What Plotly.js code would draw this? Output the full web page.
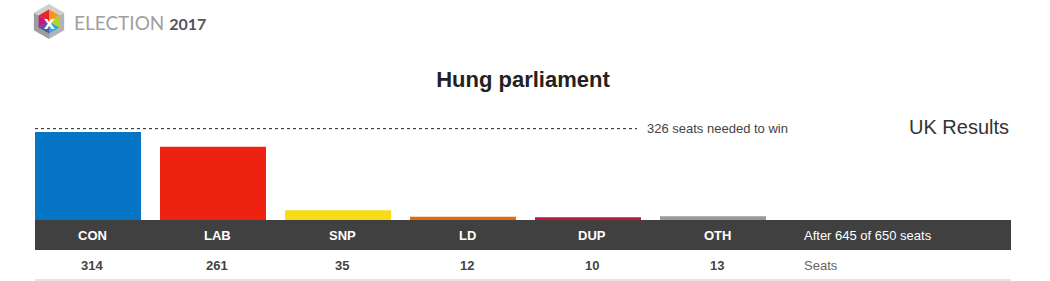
<!DOCTYPE html>
<html>
<head>
<meta charset="utf-8">
<script src="https://cdn.plot.ly/plotly-3.0.1.min.js"></script>
<style>
html,body{margin:0;padding:0;background:#fff;}
#chart{width:1050px;height:281px;}
</style>
</head>
<body>
<div id="chart"></div>
<script>
// ---- data ----
const parties = ['CON', 'LAB', 'SNP', 'LD', 'DUP', 'OTH'];
const seats = [314, 261, 35, 12, 10, 13];
const partyColors = ['#0775C5', '#EE2211', '#F8DC17', '#E56B05', '#C0143C', '#999999'];
const majority = 326;
const declared = 645;
const totalSeats = 650;
const titleText = 'Hung parliament';
const subtitleText = 'UK Results';
const majorityText = majority + ' seats needed to win';
const progressText = 'After ' + declared + ' of ' + totalSeats + ' seats';
const rowLabel = 'Seats';
const logoWord = 'ELECTION';
const logoYear = '2017';

// ---- layout geometry (pixels) ----
const W = 1050, H = 281;
const plotL = 35, plotR = 1011, plotT = 120, plotB = 220;
const plotW = plotR - plotL, plotH = plotB - plotT;
const px = x => (x - plotL) / plotW;          // pixel x -> paper
const py = y => (plotB - y) / plotH;          // pixel y -> paper
const FONT = 'Arial, "Liberation Sans", Helvetica, sans-serif';

const trace = {
  type: 'bar',
  x: parties,
  y: seats,
  width: 0.848,
  marker: {color: partyColors, line: {width: 0}},
  hoverinfo: 'skip',
  cliponaxis: false
};

const shapes = [];
const annotations = [];

// dark band under bars
shapes.push({type: 'rect', xref: 'paper', yref: 'paper', x0: 0, x1: 1, y0: py(250), y1: py(220),
  fillcolor: '#404040', line: {width: 0}, layer: 'below'});
// bottom rule
shapes.push({type: 'line', xref: 'paper', yref: 'paper', x0: 0, x1: 1, y0: py(280), y1: py(280),
  line: {color: '#dddddd', width: 1.5}});
// majority dashed line
shapes.push({type: 'line', xref: 'paper', yref: 'y', x0: 0, x1: px(637), y0: majority, y1: majority,
  line: {color: '#222222', width: 1, dash: '3px,3px'}});

annotations.push({xref: 'paper', yref: 'y', x: px(645), y: majority, xanchor: 'left', yanchor: 'middle',
  text: majorityText, showarrow: false, font: {family: FONT, size: 13, color: '#444'}});
annotations.push({xref: 'paper', yref: 'paper', x: 1, y: py(127), xanchor: 'right', yanchor: 'middle',
  text: subtitleText, showarrow: false, font: {family: FONT, size: 20, color: '#333'}});

parties.forEach((p, i) => {
  annotations.push({xref: 'x', yref: 'paper', x: p, y: py(235), xshift: 4, xanchor: 'center', yanchor: 'middle',
    text: '<b>' + p + '</b>', showarrow: false, font: {family: FONT, size: 13, color: '#ffffff'}});
  annotations.push({xref: 'x', yref: 'paper', x: p, y: py(265), xshift: 4, xanchor: 'center', yanchor: 'middle',
    text: '<b>' + seats[i] + '</b>', showarrow: false, font: {family: FONT, size: 13, color: '#444'}});
});
annotations.push({xref: 'paper', yref: 'paper', x: px(802), y: py(235), xanchor: 'left', yanchor: 'middle',
  text: progressText, showarrow: false, font: {family: FONT, size: 13, color: '#ffffff'}});
annotations.push({xref: 'paper', yref: 'paper', x: px(802), y: py(265), xanchor: 'left', yanchor: 'middle',
  text: rowLabel, showarrow: false, font: {family: FONT, size: 13, color: '#666'}});

// ---- logo ----
const cx = 49, cy = 21.5, R = 17.5, r = 12;
function hexPt(rad, k) { // k=0 top, clockwise
  const a = (-90 + 60 * k) * Math.PI / 180;
  return [cx + rad * Math.cos(a), cy + rad * Math.sin(a)];
}
function pathOf(pts) {
  return 'M ' + pts.map(p => px(p[0]).toFixed(5) + ',' + py(p[1]).toFixed(5)).join(' L ') + ' Z';
}
const O = [0,1,2,3,4,5].map(k => hexPt(R, k));
const C = [cx, cy];
shapes.push({type: 'path', xref: 'paper', yref: 'paper', path: pathOf([O[0], O[1], C, O[5]]), fillcolor: '#cfcfcf', line: {width: 0}});
shapes.push({type: 'path', xref: 'paper', yref: 'paper', path: pathOf([O[5], C, O[3], O[4]]), fillcolor: '#9d9d9d', line: {width: 0}});
shapes.push({type: 'path', xref: 'paper', yref: 'paper', path: pathOf([O[1], O[2], O[3], C]), fillcolor: '#b3b3b3', line: {width: 0}});
const I = [0,1,2,3,4,5].map(k => hexPt(r, k));
const segColors = ['#f7941d', '#b5d334', '#27aae1', '#5b52a3', '#c2187f', '#e8262a'];
for (let k = 0; k < 6; k++) {
  shapes.push({type: 'path', xref: 'paper', yref: 'paper', path: pathOf([C, I[k], I[(k + 1) % 6]]),
    fillcolor: segColors[k], line: {width: 0}});
}
annotations.push({xref: 'paper', yref: 'paper', x: px(cx), y: py(cy + 0.5), xanchor: 'center', yanchor: 'middle',
  text: '<b>x</b>', showarrow: false, font: {family: FONT, size: 19, color: '#ffffff'}});
annotations.push({xref: 'paper', yref: 'paper', x: px(72), y: py(22), xanchor: 'left', yanchor: 'middle',
  text: logoWord + ' <span style="color:#555;font-size:16px"><b>' + logoYear + '</b></span>', showarrow: false,
  font: {family: 'Lato, "Open Sans", sans-serif', size: 19, color: '#a0a0a0'}});

const layout = {
  width: W, height: H,
  margin: {l: plotL, r: W - plotR, t: plotT, b: H - plotB, pad: 0},
  paper_bgcolor: '#ffffff', plot_bgcolor: '#ffffff',
  showlegend: false,
  title: {text: '<b>' + titleText + '</b>', xref: 'paper', x: 0.5, xanchor: 'center',
    yref: 'container', y: 1 - 79 / H, yanchor: 'middle',
    font: {family: FONT, size: 22, color: '#222'}},
  xaxis: {type: 'category', range: [-0.424, 7.384], showgrid: false, zeroline: false,
    showticklabels: false, showline: false, ticks: '', fixedrange: true},
  yaxis: {range: [0, plotH / 0.28025], showgrid: false, zeroline: false,
    showticklabels: false, showline: false, ticks: '', fixedrange: true},
  shapes: shapes,
  annotations: annotations,
  hovermode: false
};

Plotly.newPlot('chart', [trace], layout, {displayModeBar: false, staticPlot: true});
</script>
</body>
</html>
